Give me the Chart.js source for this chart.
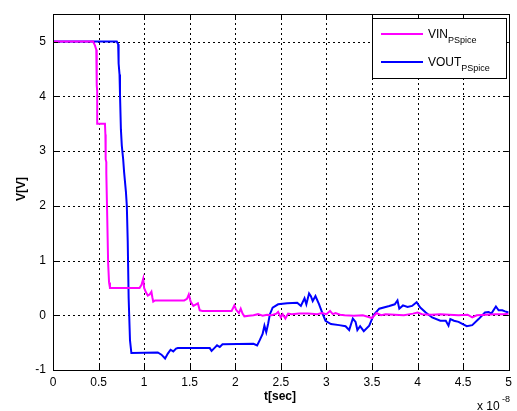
<!DOCTYPE html>
<html>
<head>
<meta charset="utf-8">
<script src="https://cdn.jsdelivr.net/npm/chart.js@4"></script>
<style>
html,body{margin:0;padding:0;background:#fff;}
canvas{display:block;}
</style>
</head>
<body>
<canvas id="c" width="517" height="411"></canvas>
<script>
// time values in units of 1e-8 s
const seriesNames = ["VIN", "VOUT"];
const seriesSub = "PSpice";
const xTicks = [0, 0.5, 1, 1.5, 2, 2.5, 3, 3.5, 4, 4.5, 5];
const yTicks = [-1, 0, 1, 2, 3, 4, 5];

const vinT = [0,0.44,0.46,0.475,0.48,0.485,0.485,0.57,0.575,0.578,0.585,0.585,0.595,0.605,0.615,0.625,0.95,0.97,0.99,1.0,1.02,1.04,1.06,1.08,1.09,1.1,1.12,1.44,1.47,1.49,1.51,1.54,1.57,1.59,1.61,1.64,1.96,1.99,2.01,2.04,2.06,2.08,2.1,2.15,2.2,2.25,2.3,2.35,2.4,2.45,2.47,2.5,2.52,2.55,2.58,2.62,2.7,2.8,2.9,2.95,3.0,3.04,3.07,3.1,3.15,3.2,3.3,3.4,3.5,3.55,3.6,3.65,3.75,3.85,3.95,4.0,4.05,4.15,4.25,4.35,4.45,4.55,4.6,4.65,4.75,4.85,4.95,5.0];
const vinV = [5,5,4.93,4.85,4.2,4.1,3.5,3.5,3.3,2.85,2.8,2.6,1.8,0.95,0.6,0.5,0.5,0.55,0.67,0.5,0.42,0.36,0.38,0.43,0.33,0.25,0.27,0.27,0.3,0.38,0.25,0.17,0.2,0.22,0.09,0.08,0.08,0.18,0.1,0.04,0.12,0.03,-0.02,-0.01,0.0,0.02,-0.01,0.01,0.0,0.03,0.06,-0.04,0.02,-0.06,0.03,0.02,0.03,0.03,0.02,0.04,0.02,0.08,0.02,0.04,0.01,0.0,-0.01,0.0,-0.05,0.04,0.0,0.02,0.01,0.0,0.03,0.05,0.02,0.01,0.02,0.01,0.0,0.01,-0.04,0.0,0.01,0.02,0.02,0.03];

const voutT = [0,0.7,0.715,0.72,0.73,0.735,0.745,0.755,0.77,0.78,0.8,0.81,0.82,0.83,0.845,0.86,1.15,1.19,1.23,1.26,1.29,1.32,1.35,1.37,1.72,1.74,1.77,1.8,1.83,1.86,2.2,2.24,2.27,2.3,2.32,2.34,2.36,2.38,2.41,2.47,2.57,2.68,2.72,2.76,2.78,2.81,2.83,2.85,2.88,2.92,2.96,2.99,3.05,3.14,3.21,3.25,3.29,3.32,3.34,3.37,3.41,3.47,3.52,3.58,3.69,3.75,3.78,3.8,3.84,3.89,3.94,3.99,4.03,4.09,4.16,4.25,4.31,4.34,4.36,4.4,4.45,4.54,4.6,4.67,4.74,4.78,4.81,4.86,4.89,4.93,4.96,5.0];
const voutV = [5,5,4.95,4.6,4.4,4.05,3.4,3.1,2.85,2.62,2.26,2.0,1.35,0.32,-0.46,-0.69,-0.68,-0.72,-0.79,-0.7,-0.63,-0.66,-0.61,-0.6,-0.6,-0.65,-0.6,-0.55,-0.58,-0.53,-0.52,-0.55,-0.45,-0.34,-0.19,-0.31,-0.16,0.02,0.14,0.2,0.22,0.23,0.17,0.31,0.2,0.4,0.35,0.26,0.35,0.2,0.02,-0.1,-0.16,-0.18,-0.2,-0.27,-0.06,-0.12,-0.27,-0.2,-0.29,-0.19,0.01,0.12,0.17,0.2,0.27,0.12,0.18,0.15,0.17,0.24,0.14,0.05,-0.04,-0.1,-0.1,-0.19,-0.07,-0.1,-0.12,-0.2,-0.18,-0.07,0.05,0.06,0.03,0.16,0.09,0.09,0.07,0.05];

const colors = ["#ff00ff", "#0000ff"];
const FONT = "'Liberation Sans', Arial, sans-serif";

function pts(t, v){ return t.map((x,i)=>({x:x, y:v[i]})); }

const gridPlugin = {
  id: 'dottedGrid',
  beforeDatasetsDraw(chart){
    const ctx = chart.ctx, a = chart.chartArea;
    const xs = chart.scales.x, ys = chart.scales.y;
    ctx.save();
    ctx.strokeStyle = '#000';
    ctx.lineWidth = 1;
    ctx.setLineDash([2, 3]);
    ctx.beginPath();
    xTicks.forEach(t=>{
      const px = Math.round(xs.getPixelForValue(t))+0.5;
      ctx.moveTo(px, a.bottom); ctx.lineTo(px, a.top);
    });
    yTicks.forEach(v=>{
      const py = Math.round(ys.getPixelForValue(v))+0.5;
      ctx.moveTo(a.left, py); ctx.lineTo(a.right, py);
    });
    ctx.stroke();
    ctx.restore();
  }
};

const framePlugin = {
  id: 'frame',
  afterDraw(chart){
    const ctx = chart.ctx, a = chart.chartArea;
    const xs = chart.scales.x, ys = chart.scales.y;
    ctx.save();
    ctx.strokeStyle = '#000';
    ctx.lineWidth = 1;
    // inward ticks
    ctx.beginPath();
    xTicks.forEach(t=>{
      const px = Math.round(xs.getPixelForValue(t))+0.5;
      ctx.moveTo(px, a.bottom); ctx.lineTo(px, a.bottom-5);
      ctx.moveTo(px, a.top); ctx.lineTo(px, a.top+5);
    });
    yTicks.forEach(v=>{
      const py = Math.round(ys.getPixelForValue(v))+0.5;
      ctx.moveTo(a.left, py); ctx.lineTo(a.left+5, py);
      ctx.moveTo(a.right, py); ctx.lineTo(a.right-5, py);
    });
    ctx.stroke();
    // box
    ctx.strokeRect(Math.round(a.left)+0.5, Math.round(a.top)+0.5, Math.round(a.right-a.left), Math.round(a.bottom-a.top));

    // legend
    const lx = 372.5, ly = 18.5, lw = 134, lh = 60;
    ctx.fillStyle = '#fff';
    ctx.fillRect(lx, ly, lw, lh);
    ctx.strokeRect(lx, ly, lw, lh);
    const rows = [34, 62];
    chart.data.datasets.forEach((ds,i)=>{
      const y = rows[i];
      ctx.strokeStyle = ds.borderColor; ctx.lineWidth = 2;
      ctx.beginPath(); ctx.moveTo(381, y); ctx.lineTo(423, y); ctx.stroke();
      ctx.fillStyle = '#000';
      ctx.textBaseline = 'alphabetic'; ctx.textAlign = 'left';
      ctx.font = '12px ' + FONT;
      ctx.fillText(seriesNames[i], 428, y+4);
      const w = ctx.measureText(seriesNames[i]).width;
      ctx.font = '9px ' + FONT;
      ctx.fillText(seriesSub, 428+w, y+9);
    });

    // axis titles
    ctx.fillStyle = '#000';
    ctx.font = 'bold 12px ' + FONT;
    ctx.textAlign = 'center'; ctx.textBaseline = 'middle';
    ctx.fillText('t[sec]', 280, 397);
    ctx.save();
    ctx.translate(22, 189); ctx.rotate(-Math.PI/2);
    ctx.fillText('V[V]', 0, 0);
    ctx.restore();
    // exponent
    ctx.font = '12px ' + FONT;
    ctx.textAlign = 'left'; ctx.textBaseline = 'alphabetic';
    ctx.fillText('x 10', 477, 410);
    ctx.font = '9px ' + FONT;
    ctx.fillText('-8', 502, 402);
    ctx.restore();
  }
};

new Chart(document.getElementById('c'), {
  type: 'line',
  data: {
    datasets: [
      { label: seriesNames[0], data: pts(vinT, vinV), borderColor: colors[0], borderWidth: 2, pointRadius: 0, tension: 0, fill: false },
      { label: seriesNames[1], data: pts(voutT, voutV), borderColor: colors[1], borderWidth: 2, pointRadius: 0, tension: 0, fill: false }
    ]
  },
  options: {
    responsive: false,
    animation: false,
    devicePixelRatio: 1,
    layout: { padding: { left: 0, right: 7, top: 11, bottom: 0 } },
    plugins: { legend: { display: false }, tooltip: { enabled: false } },
    scales: {
      x: {
        type: 'linear', min: 0, max: 5,
        afterBuildTicks(s){ s.ticks = xTicks.map(v=>({value:v})); },
        afterFit(s){ s.height = 41; },
        grid: { display: false, drawTicks: false },
        border: { display: false },
        ticks: { color: '#000', font: { family: FONT, size: 12 }, padding: 5, maxRotation: 0, autoSkip: false,
                 callback: v => String(v) }
      },
      y: {
        type: 'linear', min: -1, max: 5.5,
        afterBuildTicks(s){ s.ticks = yTicks.map(v=>({value:v})); },
        afterFit(s){ s.width = 53; },
        grid: { display: false, drawTicks: false },
        border: { display: false },
        ticks: { color: '#000', font: { family: FONT, size: 12 }, padding: 7, callback: v => String(v) }
      }
    }
  },
  plugins: [gridPlugin, framePlugin]
});
</script>
</body>
</html>
